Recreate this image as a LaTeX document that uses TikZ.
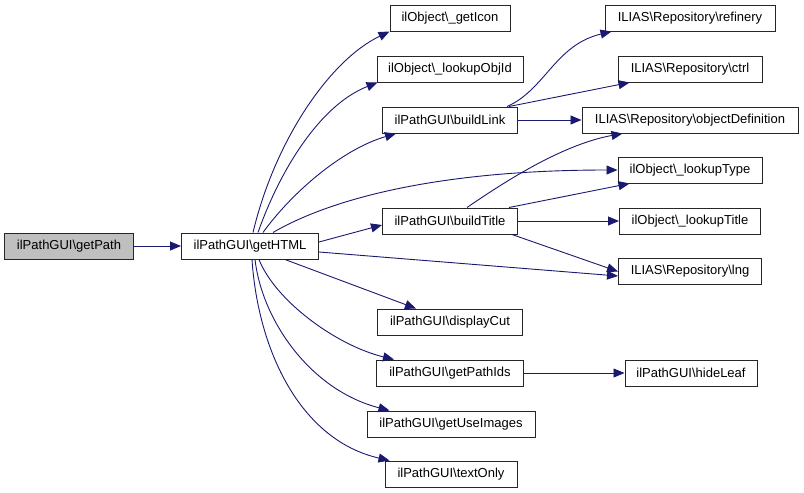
\documentclass[tikz,border=0pt]{standalone}
\usepackage{fontspec}
\setmainfont{Liberation Sans}
\usetikzlibrary{arrows.meta}
\definecolor{edgeblue}{HTML}{191970}
\definecolor{rootgray}{HTML}{BFBFBF}
\tikzset{
  fn/.style={draw=black!85, line width=1pt, fill=white, minimum height=26pt,
    inner sep=0pt, font=\fontsize{13}{15}\selectfont},
  root/.style={fn, fill=rootgray},
  call/.style={draw=edgeblue, line width=0.9pt,
    -{Triangle[length=11pt,width=9pt,fill=edgeblue]}},
}
\newcommand{\bs}{\textbackslash}
\begin{document}
\begin{tikzpicture}[x=1pt,y=-1pt]
\useasboundingbox (0,0) rectangle (804,493);
% the nodes
\node[root, minimum width=129pt] (getPath) at (69,246) {ilPathGUI\bs getPath};
\node[fn, minimum width=137pt] (getHTML) at (250,246) {ilPathGUI\bs getHTML};
\node[fn, minimum width=120pt] (getIcon) at (450,18) {ilObject\bs\_getIcon};
\node[fn, minimum width=146pt] (lookupObjId) at (450,69) {ilObject\bs\_lookupObjId};
\node[fn, minimum width=135pt] (buildLink) at (450,120) {ilPathGUI\bs buildLink};
\node[fn, minimum width=135pt] (buildTitle) at (450,221) {ilPathGUI\bs buildTitle};
\node[fn, minimum width=145pt] (displayCut) at (450,322) {ilPathGUI\bs displayCut};
\node[fn, minimum width=147pt] (getPathIds) at (450,373) {ilPathGUI\bs getPathIds};
\node[fn, minimum width=168pt] (getUseImages) at (451,424) {ilPathGUI\bs getUseImages};
\node[fn, minimum width=132pt] (textOnly) at (451,474) {ilPathGUI\bs textOnly};
\node[fn, minimum width=170pt] (refinery) at (690,18) {ILIAS\bs Repository\bs refinery};
\node[fn, minimum width=144pt] (ctrl) at (690,69) {ILIAS\bs Repository\bs ctrl};
\node[fn, minimum width=216pt] (objDef) at (690,120) {ILIAS\bs Repository\bs objectDefinition};
\node[fn, minimum width=144pt] (lookupType) at (690,170) {ilObject\bs\_lookupType};
\node[fn, minimum width=141pt] (lookupTitle) at (690,221) {ilObject\bs\_lookupTitle};
\node[fn, minimum width=143pt] (lng) at (690,271) {ILIAS\bs Repository\bs lng};
\node[fn, minimum width=132pt] (hideLeaf) at (691,373) {ilPathGUI\bs hideLeaf};
% the calls
\draw[call] (getPath) -- (getHTML);
\draw[call] ([xshift=3pt]getHTML.north) .. controls (275,140) and (330,60) .. (getIcon.south west);
\draw[call] ([xshift=8pt]getHTML.north) .. controls (280,170) and (320,105) .. ([xshift=1pt]lookupObjId.south west);
\draw[call] ([xshift=13pt]getHTML.north) .. controls (290,195) and (340,150) .. ([xshift=14pt]buildLink.south west);
\draw[call] ([xshift=23pt]getHTML.north) .. controls (320,205) and (420,170) .. (lookupType.west);
\draw[call] ([yshift=4pt]getHTML.east) -- ([yshift=-4pt]buildTitle.west);
\draw[call] ([yshift=-6pt]getHTML.east) -- ([yshift=-5pt]lng.west);
\draw[call] ([xshift=35pt]getHTML.south) -- ([xshift=-34pt]displayCut.north);
\draw[call] ([xshift=9pt]getHTML.south) .. controls (275,300) and (335,345) .. ([xshift=18pt]getPathIds.north west);
\draw[call] ([xshift=5pt]getHTML.south) .. controls (262,320) and (310,390) .. ([xshift=23pt]getUseImages.north west);
\draw[call] ([xshift=2pt]getHTML.south) .. controls (258,350) and (300,440) .. ([xshift=5pt]textOnly.north west);
\draw[call] ([xshift=125pt]buildLink.north west) .. controls (545,90) and (555,45) .. ([xshift=7pt]refinery.south west);
\draw[call] ([xshift=127pt]buildLink.north west) -- ([xshift=12pt]ctrl.south west);
\draw[call] (buildLink) -- (objDef);
\draw[call] ([xshift=85pt]buildTitle.north west) .. controls (500,185) and (560,145) .. ([xshift=41pt]objDef.south west);
\draw[call] ([xshift=127pt]buildTitle.north west) -- ([xshift=12pt]lookupType.south west);
\draw[call] (buildTitle) -- (lookupTitle);
\draw[call] ([xshift=130pt]buildTitle.south west) -- ([yshift=-14pt]lng.north west);
\draw[call] (getPathIds) -- (hideLeaf);
\end{tikzpicture}
\end{document}
